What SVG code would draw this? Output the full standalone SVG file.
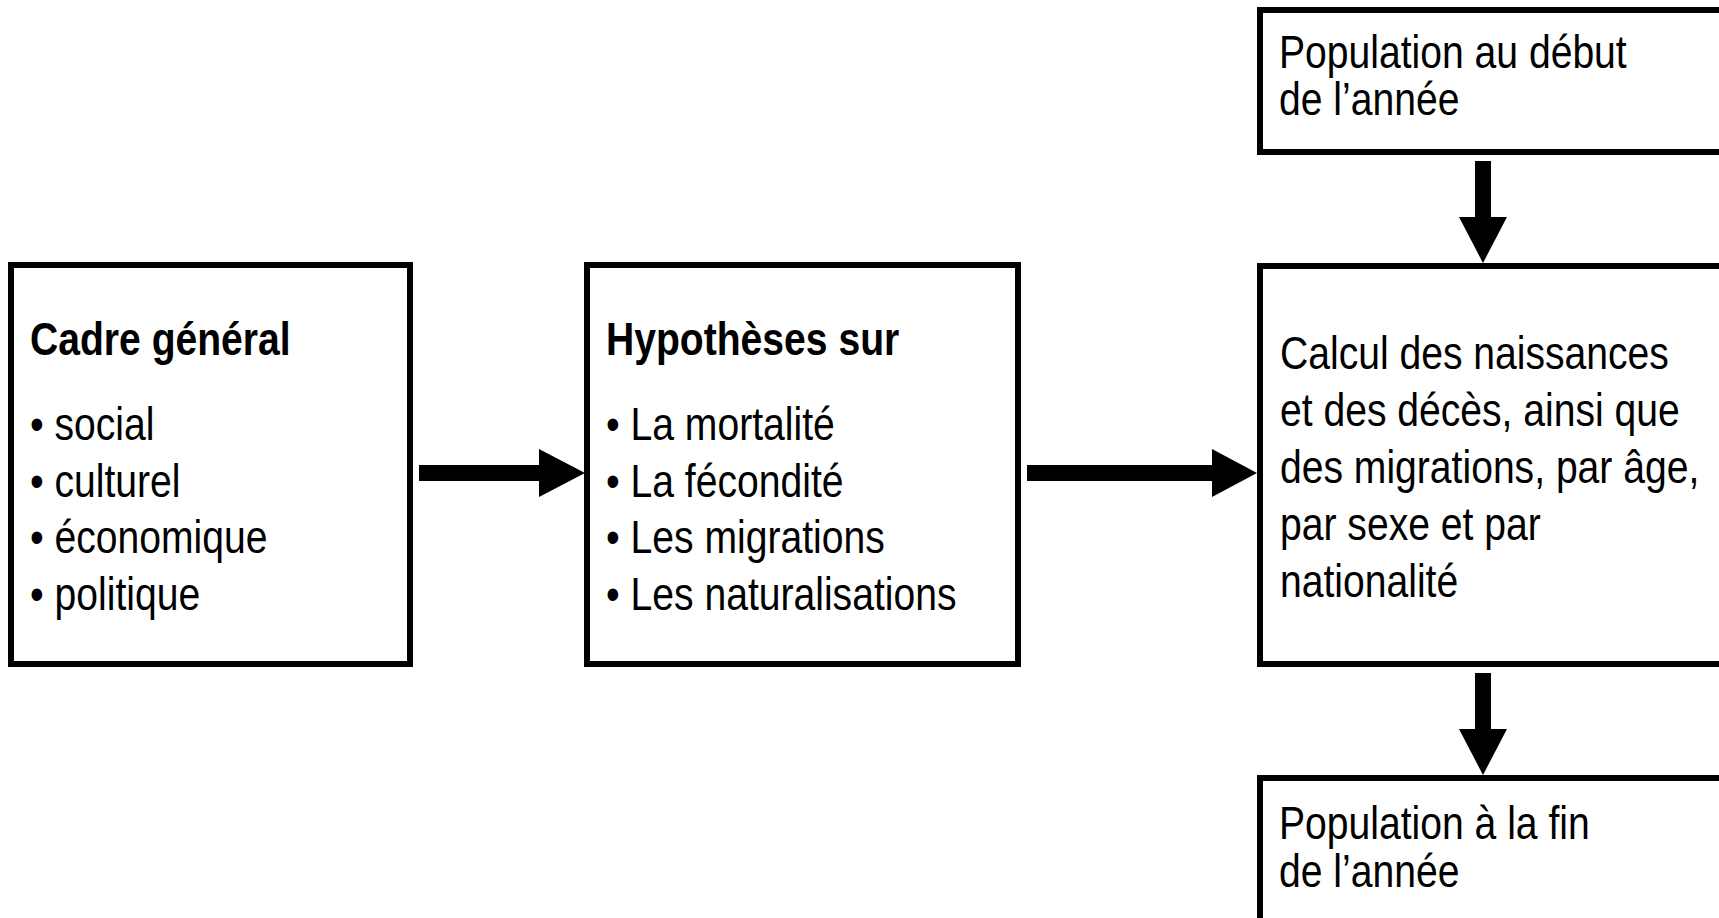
<svg xmlns="http://www.w3.org/2000/svg" width="1719" height="918" viewBox="0 0 1719 918">
  <style>
    .box { fill: #ffffff; stroke: #000000; stroke-width: 6; }
    .arrow { fill: #000000; stroke: none; }
    text { font-family: "Liberation Sans", Arial, sans-serif; font-size: 46px; fill: #000000; }
    .title { font-weight: bold; }
  </style>
  <rect x="0" y="0" width="1719" height="918" fill="#ffffff"/>

  <g id="node-cadre">
    <rect class="box" x="11" y="265" width="399" height="399"/>
    <text class="title" transform="translate(30 355) scale(0.85 1)">Cadre général</text>
    <text transform="translate(30 440) scale(0.85 1)">• social</text>
    <text transform="translate(30 497) scale(0.85 1)">• culturel</text>
    <text transform="translate(30 553) scale(0.85 1)">• économique</text>
    <text transform="translate(30 610) scale(0.85 1)">• politique</text>
  </g>

  <g id="node-hypotheses">
    <rect class="box" x="587" y="265" width="431" height="399"/>
    <text class="title" transform="translate(606 355) scale(0.85 1)">Hypothèses sur</text>
    <text transform="translate(606 440) scale(0.85 1)">• La mortalité</text>
    <text transform="translate(606 497) scale(0.85 1)">• La fécondité</text>
    <text transform="translate(606 553) scale(0.85 1)">• Les migrations</text>
    <text transform="translate(606 610) scale(0.85 1)">• Les naturalisations</text>
  </g>

  <g id="node-debut">
    <rect class="box" x="1260" y="10" width="480" height="142"/>
    <text transform="translate(1279 68) scale(0.85 1)">Population au début</text>
    <text transform="translate(1279 115) scale(0.85 1)">de l’année</text>
  </g>

  <g id="node-calcul">
    <rect class="box" x="1260" y="266" width="480" height="398"/>
    <text transform="translate(1280 369) scale(0.85 1)">Calcul des naissances</text>
    <text transform="translate(1280 426) scale(0.85 1)">et des décès, ainsi que</text>
    <text transform="translate(1280 483) scale(0.85 1)">des migrations, par âge,</text>
    <text transform="translate(1280 540) scale(0.85 1)">par sexe et par</text>
    <text transform="translate(1280 597) scale(0.85 1)">nationalité</text>
  </g>

  <g id="node-fin">
    <rect class="box" x="1260" y="778" width="480" height="160"/>
    <text transform="translate(1279 839) scale(0.85 1)">Population à la fin</text>
    <text transform="translate(1279 887) scale(0.85 1)">de l’année</text>
  </g>

  <g id="connectors">
    <path class="arrow" d="M419,465 H539 V449 L585,473 L539,497 V481 H419 Z"/>
    <path class="arrow" d="M1027,465 H1212 V449 L1257,473 L1212,497 V481 H1027 Z"/>
    <path class="arrow" d="M1475,161 V217 H1459 L1483,263 L1507,217 H1491 V161 Z"/>
    <path class="arrow" d="M1475,673 V729 H1459 L1483,775 L1507,729 H1491 V673 Z"/>
  </g>
</svg>
